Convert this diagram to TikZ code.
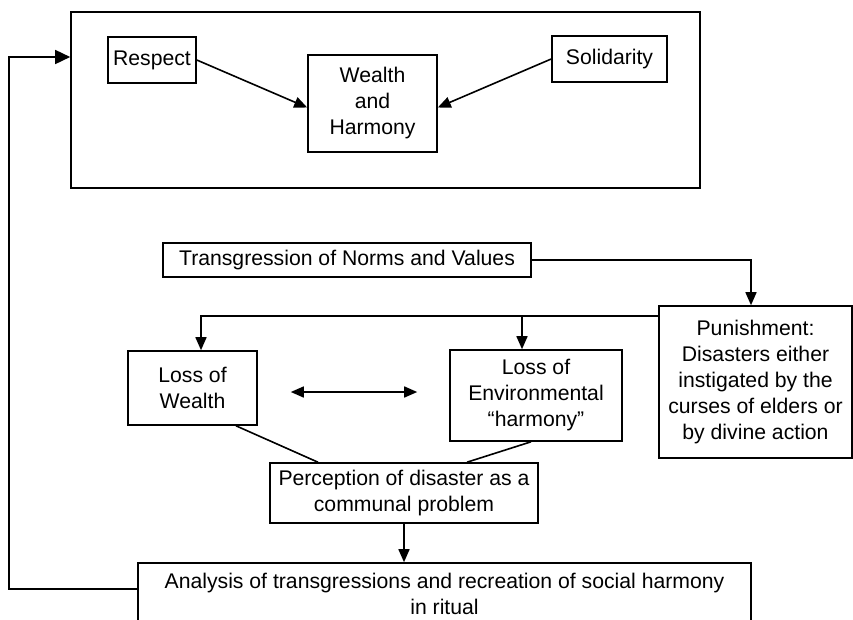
\documentclass[tikz,border=0pt]{standalone}
\usepackage{fontspec}
\setmainfont{Liberation Sans}
\usetikzlibrary{arrows.meta}
\tikzset{
  block/.style={draw, line width=1.6pt, align=center, inner sep=0pt,
    font=\fontsize{21.2pt}{26pt}\selectfont},
  link/.style={line width=1.6pt},
  flow/.style={link, -{Triangle[length=13pt,width=11pt]}},
  bigflow/.style={link, -{Triangle[length=15pt,width=14pt]}},
}
\begin{document}
\begin{tikzpicture}[x=1pt, y=-1pt]
        \useasboundingbox (0,0) rectangle (853,619);
        % upper frame
        \node[block, minimum width=629pt, minimum height=176pt] (frame) at (385.5,100) {};
        \node[block, minimum width=88pt, minimum height=46pt] (respect) at (152,60) {Respect};
        \node[block, minimum width=129pt, minimum height=97pt] (wealth) at (372.5,103.5) {Wealth\\and\\Harmony};
        \node[block, minimum width=115pt, minimum height=46pt] (solidarity) at (609.5,59) {Solidarity};
        \draw[flow] (respect.east) -- ([yshift=-4pt]wealth.west);
        \draw[flow] (solidarity.west) -- ([yshift=-4pt]wealth.east);
        % lower chain
        \node[block, minimum width=368pt, minimum height=34pt] (trans) at (347,260) {Transgression of Norms and Values};
        \node[block, minimum width=193pt, minimum height=152pt] (punish) at (755.5,382) {Punishment:\\Disasters either\\instigated by the\\curses of elders or\\by divine action};
        \node[block, minimum width=129pt, minimum height=74pt] (wloss) at (192.5,388) {Loss of\\Wealth};
        \node[block, minimum width=172pt, minimum height=91pt] (eloss) at (536,395.5) {Loss of\\Environmental\\“harmony”};
        \node[block, minimum width=268pt, minimum height=60pt] (percep) at (404,493) {Perception of disaster as a\\communal problem};
        \node[block, minimum width=613pt, minimum height=61pt] (analysis) at (444.5,593.5) {Analysis of transgressions and recreation of social harmony\\in ritual};
        \coordinate (split) at ([yshift=-11pt]punish.north west);
        \coordinate (entry) at ([yshift=43pt]frame.west);
        \draw[flow] (trans.east) -| ([xshift=-4.5pt]punish.north);
        \draw[flow] (split) -| ([xshift=8.5pt]wloss.north);
        \draw[flow] ([xshift=-14pt]eloss.north |- split) -- ([xshift=-14pt]eloss.north);
        \draw[link, {Triangle[length=13pt,width=11pt]}-{Triangle[length=13pt,width=11pt]}]
          ([xshift=33pt,yshift=-4pt]wloss.east) -- ([xshift=-32pt,yshift=3.5pt]eloss.west);
        \draw[link] ([xshift=43.5pt]wloss.south) -- ([xshift=-86pt]percep.north);
        \draw[link] ([xshift=-5pt]eloss.south) -- ([xshift=63pt]percep.north);
        \draw[flow] (percep.south) -- (percep.south |- analysis.north);
        % back to the frame
        \draw[bigflow] ([yshift=4.5pt]analysis.west) -- ++(-128,0) |- (entry);
\end{tikzpicture}
\end{document}
